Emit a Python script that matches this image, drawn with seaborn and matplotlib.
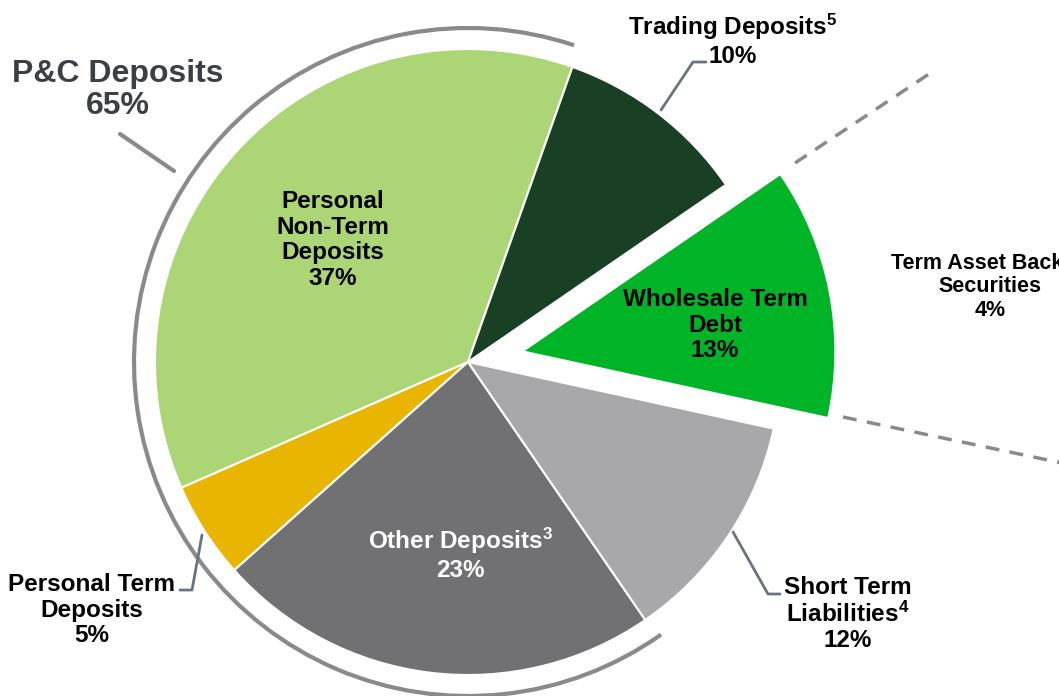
import numpy as np
import matplotlib
matplotlib.use("Agg")
import matplotlib.pyplot as plt
import seaborn as sns
from matplotlib.patches import Arc

# funding mix (%), listed counter-clockwise starting at the top
segments = ["Personal Non-Term Deposits", "Personal Term Deposits", "Other Deposits",
            "Short Term Liabilities", "Wholesale Term Debt", "Trading Deposits"]
shares = [37, 5, 23, 12, 13, 10]
colors = ["#acd576", "#e8b500", "#717073", "#a8a8aa", "#00b427", "#193f24"]
pulled_out = [0, 0, 0, 0, 1, 0]
pc_share = 65  # personal + other deposits
tabs_share = 4

sns.set_theme(style="white")
plt.rcParams["font.family"] = ["Liberation Sans", "DejaVu Sans"]
plt.rcParams["mathtext.fontset"] = "custom"
plt.rcParams["mathtext.rm"] = "Liberation Sans:bold"
plt.rcParams["mathtext.it"] = "Liberation Sans:bold"
plt.rcParams["mathtext.bf"] = "Liberation Sans:bold"

W, H = 1059, 696
fig = plt.figure(figsize=(W / 100, H / 100), dpi=100)
ax = fig.add_axes([0, 0, 1, 1])

cx, cy, r = 468, H - 362, 313
start = 70.5
# matplotlib applies explode in data units, so scale by the radius
explode = [p * 0.177 * r for p in pulled_out]
ax.pie(shares, colors=colors, explode=explode, startangle=start, radius=r,
       center=(cx, cy), frame=True,
       wedgeprops=dict(edgecolor="white", linewidth=1.5))
ax.set_xlim(0, W)
ax.set_ylim(0, H)
ax.set_aspect("equal")
ax.axis("off")

# outer bracket arc around the P&C deposits
pc_end = start + 360 * sum(shares[:3]) / 100
ax.add_patch(Arc((cx, cy), 2 * 334, 2 * 334, theta1=start + 1, theta2=pc_end + 0.8,
                 color="#8a8a8a", lw=3))

def py(y):
    return H - y

bold = dict(fontweight="bold", ha="center", va="center", linespacing=1.13)

ax.text(118, py(90), f"P&C Deposits\n{pc_share}%", fontsize=23, color="#3c4045",
        fontweight="bold", ha="center", va="center", linespacing=1.05)
ax.plot([120, 174], [py(134), py(171)], color="#8a8a8a", lw=3)

ax.text(333, py(240), f"Personal\nNon-Term\nDeposits\n{shares[0]}%", fontsize=17.5,
        color="black", **bold)
ax.text(733, py(40), f"Trading Deposits$^{{5}}$\n{shares[5]}%", fontsize=17.5,
        color="black", **bold)
ax.plot([661, 693, 706], [py(110), py(62), py(62)], color="#6b7280", lw=2)
ax.text(715, py(325), f"Wholesale Term\nDebt\n{shares[4]}%", fontsize=17.5,
        color="black", **bold)
ax.text(990, py(287), f"Term Asset Backed\nSecurities\n{tabs_share}%", fontsize=15.5,
        color="black", **bold)
ax.text(460, py(554), f"Other Deposits$^{{3}}$\n{shares[2]}%", fontsize=17.5,
        color="white", **bold)
ax.text(848, py(614), f"Short Term\nLiabilities$^{{4}}$\n{shares[3]}%", fontsize=17.5,
        color="black", **bold)
ax.plot([733, 768, 780], [py(532), py(594), py(594)], color="#6b7280", lw=2)
ax.text(92, py(610), f"Personal Term\nDeposits\n{shares[1]}%", fontsize=17.5,
        color="black", **bold)
ax.plot([202, 192, 180], [py(535), py(590), py(590)], color="#6b7280", lw=2)

# dashed callout lines toward the TABS breakdown
ax.plot([795, 935], [py(163), py(70)], color="#8a8a8a", lw=2.5, ls=(0, (4, 3)))
ax.plot([843, 1062], [py(417), py(463)], color="#8a8a8a", lw=2.5, ls=(0, (4, 3)))

fig.savefig("out.png", dpi=100)
